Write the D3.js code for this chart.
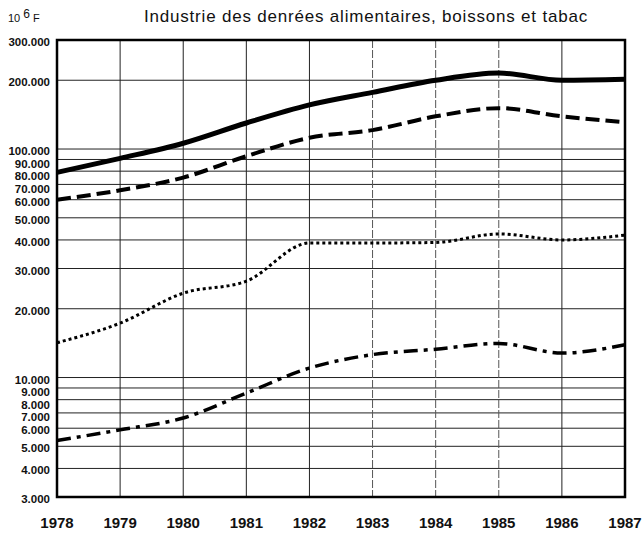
<!DOCTYPE html>
<html lang="fr">
<head>
<meta charset="UTF-8">
<title>Industrie des denrées alimentaires, boissons et tabac</title>
<script src="https://d3js.org/d3.v7.min.js"></script>
<style>
  body { margin: 0; background: #fff; }
  svg text { font-family: "Liberation Sans", Arial, Helvetica, sans-serif; fill: #111; }
  .grid line { stroke: #222; stroke-width: 1; }
  .serie { fill: none; stroke: #000; stroke-linecap: butt; }
</style>
</head>
<body>
<div id="chart"></div>
<script>
// years on the x axis
var years = [1978, 1979, 1980, 1981, 1982, 1983, 1984, 1985, 1986, 1987];

// values in 10^6 F
var serieA = [79000, 91000, 106000, 130000, 156000, 177000, 200000, 215000, 200000, 202000]; // solid
var serieB = [60000, 66000, 75000, 93000, 112000, 121000, 139000, 151000, 139000, 131000];   // dashed
var serieC = [14200, 17300, 23400, 26400, 38800, 38800, 39000, 42500, 40000, 42000];         // dotted
var serieD = [5300, 5900, 6650, 8550, 11000, 12600, 13300, 14100, 12800, 13900];             // dash-dot

// y gridlines and their labels
var yTicks = [3000, 4000, 5000, 6000, 7000, 8000, 9000, 10000, 20000, 30000, 40000, 50000, 60000, 70000, 80000, 90000, 100000, 200000, 300000];
var yLabels = ["3.000", "4.000", "5.000", "6.000", "7.000", "8.000", "9.000", "10.000", "20.000", "30.000", "40.000", "50.000", "60.000", "70.000", "80.000", "90.000", "100.000", "200.000", "300.000"];

var width = 642, height = 534;
var margin = {top: 40, right: 17, bottom: 37, left: 57};

var svg = d3.select("#chart").append("svg")
    .attr("width", width)
    .attr("height", height);

var x = d3.scaleLinear()
    .domain([1978, 1987])
    .range([margin.left, width - margin.right]);

var y = d3.scaleLog()
    .domain([3000, 300000])
    .range([height - margin.bottom, margin.top]);

// grid
var grid = svg.append("g").attr("class", "grid");
grid.selectAll(".h")
    .data(yTicks.filter(function(d) { return d > 3000 && d < 300000; }))
  .enter().append("line")
    .attr("x1", x(1978)).attr("x2", x(1987))
    .attr("y1", function(d) { return y(d); })
    .attr("y2", function(d) { return y(d); });
grid.selectAll(".v")
    .data(years.slice(1, -1))
  .enter().append("line")
    .attr("x1", function(d) { return x(d); })
    .attr("x2", function(d) { return x(d); })
    .attr("y1", y(300000)).attr("y2", y(3000))
    .style("stroke", function(d) { return d >= 1983 && d <= 1985 ? "#555" : null; })
    .style("stroke-dasharray", function(d) { return d >= 1983 && d <= 1985 ? "8,2" : null; });

// y labels: sweep down from the top so crowded labels don't overlap
var labelPos = yTicks.map(function(d) { return y(d); });
var minGap = 12.5;
for (var i = labelPos.length - 2; i >= 0; i--) {
  labelPos[i] = Math.max(labelPos[i], labelPos[i + 1] + minGap);
}

svg.append("g").selectAll("text")
    .data(yLabels)
  .enter().append("text")
    .attr("x", 50)
    .attr("y", function(d, i) { return labelPos[i] + 2; })
    .attr("dy", "0.35em")
    .attr("text-anchor", "end")
    .style("font-size", "11.5px")
    .style("font-weight", "bold")
    .text(function(d) { return d; });

// x labels
svg.append("g").selectAll("text")
    .data(years)
  .enter().append("text")
    .attr("x", function(d) { return x(d); })
    .attr("y", 528)
    .attr("text-anchor", "middle")
    .style("font-size", "15px")
    .style("font-weight", "bold")
    .text(function(d) { return d; });

// series
var line = d3.line()
    .curve(d3.curveMonotoneX)
    .x(function(d, i) { return x(years[i]); })
    .y(function(d) { return y(d); });

svg.append("path").datum(serieA).attr("class", "serie")
    .attr("d", line).style("stroke-width", 5);
svg.append("path").datum(serieB).attr("class", "serie")
    .attr("d", line).style("stroke-width", 4).style("stroke-dasharray", "14,6");
svg.append("path").datum(serieC).attr("class", "serie")
    .attr("d", line).style("stroke-width", 3).style("stroke-dasharray", "3,3");
svg.append("path").datum(serieD).attr("class", "serie")
    .attr("d", line).style("stroke-width", 3.5).style("stroke-dasharray", "14,6,4,6");

// frame
svg.append("rect")
    .attr("x", x(1978)).attr("y", y(300000))
    .attr("width", x(1987) - x(1978))
    .attr("height", y(3000) - y(300000))
    .style("fill", "none").style("stroke", "#000").style("stroke-width", 2.5);

// title and unit
svg.append("text")
    .attr("x", 366).attr("y", 22)
    .attr("text-anchor", "middle")
    .style("font-size", "17px")
    .style("letter-spacing", "0.8px")
    .text("Industrie des denrées alimentaires, boissons et tabac");

var unit = svg.append("text")
    .attr("x", 8).attr("y", 22)
    .style("font-size", "11px");
unit.append("tspan").text("10 ");
unit.append("tspan").attr("dy", -4).style("font-size", "12px").text("6");
unit.append("tspan").attr("dy", 4).text(" F");
</script>
</body>
</html>
